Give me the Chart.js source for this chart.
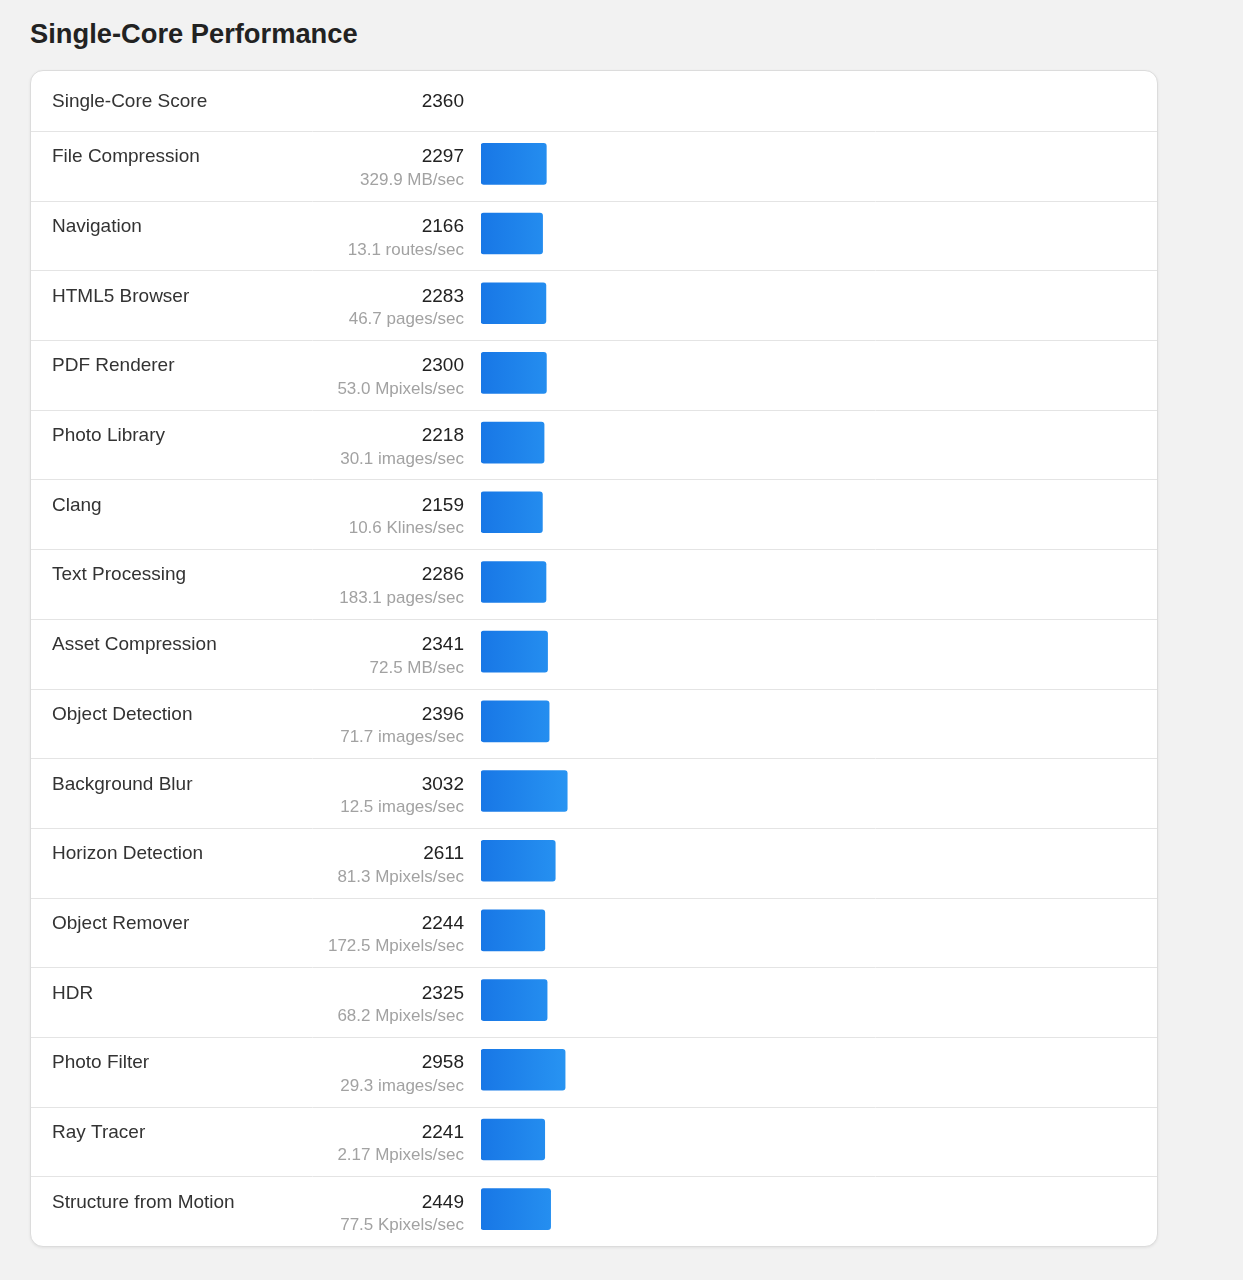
<!DOCTYPE html>
<html>
<head>
<meta charset="utf-8">
<script src="https://cdn.jsdelivr.net/npm/chart.js@4/dist/chart.umd.min.js"></script>
<style>
  html, body { margin: 0; padding: 0; background: #f2f2f2; }
  body { width: 1243px; height: 1280px; position: relative; overflow: hidden; font-family: "Liberation Sans", Arial, sans-serif; }
  #title { position: absolute; left: 30px; top: 18px; margin: 0; font-size: 27.3px; font-weight: bold; color: #222; line-height: 32px; }
  #card { position: absolute; left: 30px; top: 70px; width: 1128px; height: 1177px; box-sizing: border-box;
          background: #fff; border: 1px solid #dcdcdc; border-radius: 13px; box-shadow: 0 1px 3px rgba(0,0,0,0.07); }
  #wrap { position: absolute; left: 0; top: 0; width: 1243px; height: 1280px; }
</style>
</head>
<body>
<h1 id="title">Single-Core Performance</h1>
<div id="card"></div>
<div id="wrap"><canvas id="c" width="1243" height="1280"></canvas></div>
<script>
const headerLabel = "Single-Core Score";
const headerScore = 2360;
const categories = ["File Compression","Navigation","HTML5 Browser","PDF Renderer","Photo Library","Clang","Text Processing","Asset Compression","Object Detection","Background Blur","Horizon Detection","Object Remover","HDR","Photo Filter","Ray Tracer","Structure from Motion"];
const scores = [2297,2166,2283,2300,2218,2159,2286,2341,2396,3032,2611,2244,2325,2958,2241,2449];
const units = ["329.9 MB/sec","13.1 routes/sec","46.7 pages/sec","53.0 Mpixels/sec","30.1 images/sec","10.6 Klines/sec","183.1 pages/sec","72.5 MB/sec","71.7 images/sec","12.5 images/sec","81.3 Mpixels/sec","172.5 Mpixels/sec","68.2 Mpixels/sec","29.3 images/sec","2.17 Mpixels/sec","77.5 Kpixels/sec"];

const FONT = '"Liberation Sans", Arial, sans-serif';

const rowText = {
  id: 'rowText',
  afterDatasetsDraw(chart) {
    const ctx = chart.ctx;
    const y = chart.scales.y;
    const step = (y.bottom - y.top) / categories.length;
    ctx.save();
    // header row
    ctx.textBaseline = 'alphabetic';
    ctx.font = '19px ' + FONT;
    ctx.fillStyle = '#333';
    ctx.textAlign = 'left';
    ctx.fillText(headerLabel, 52, 107);
    ctx.textAlign = 'right';
    ctx.fillStyle = '#222';
    ctx.fillText(String(headerScore), 464, 107);
    // separators
    ctx.strokeStyle = '#e4e4e4';
    ctx.lineWidth = 1;
    for (let i = 0; i < categories.length; i++) {
      const cy = y.getPixelForValue(i);
      const top = Math.round(cy + 3 - step / 2) - 0.5;
      ctx.beginPath();
      ctx.moveTo(31, top);
      ctx.lineTo(1157, top);
      ctx.stroke();
    }
    categories.forEach((name, i) => {
      const cy = y.getPixelForValue(i);
      ctx.font = '19px ' + FONT;
      ctx.textAlign = 'left';
      ctx.fillStyle = '#333';
      ctx.fillText(name, 52, cy - 1.5);
      ctx.textAlign = 'right';
      ctx.fillStyle = '#222';
      ctx.fillText(String(scores[i]), 464, cy - 1.5);
      ctx.font = '17px ' + FONT;
      ctx.fillStyle = '#a2a2a2';
      ctx.fillText(units[i], 464, cy + 21);
    });
    ctx.restore();
  }
};

new Chart(document.getElementById('c'), {
  type: 'bar',
  data: {
    labels: categories,
    datasets: [{
      data: scores,
      barThickness: 41,
      borderRadius: 3,
      borderSkipped: false,
      backgroundColor(context) {
        const ca = context.chart.chartArea;
        if (!ca) return '#1f84ec';
        const g = context.chart.ctx.createLinearGradient(ca.left, 0, ca.left + 86, 0);
        g.addColorStop(0, '#1877e6');
        g.addColorStop(1, '#2894f2');
        return g;
      }
    }]
  },
  options: {
    indexAxis: 'y',
    responsive: false,
    animation: false,
    events: [],
    layout: { padding: { left: 481, right: 108, top: 129, bottom: 36 } },
    plugins: { legend: { display: false }, tooltip: { enabled: false } },
    scales: {
      x: { display: false, min: 0, max: 23000 },
      y: { display: false }
    }
  },
  plugins: [rowText]
});
</script>
</body>
</html>
